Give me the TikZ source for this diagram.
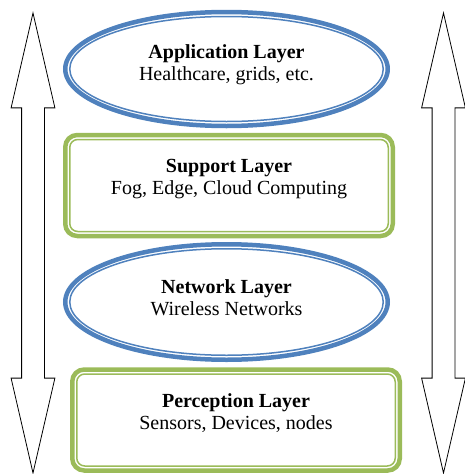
\documentclass[tikz,border=0pt]{standalone}
\usepackage{fontspec}
\setmainfont{Liberation Serif}
\usepackage{xcolor}
\usepackage{tikz}
\usetikzlibrary{positioning, shapes.geometric, shapes.arrows}

\definecolor{layerblue}{HTML}{4F81BD}
\definecolor{layergreen}{HTML}{9BBB59}

\begin{document}
\begin{tikzpicture}[
        x=1pt, y=1pt,
        txt/.style={align=center, font=\fontsize{20}{22}\selectfont, inner sep=0pt},
        oval/.style={ellipse, draw=layerblue, line width=4.5pt, minimum width=322.5pt, minimum height=114pt, inner sep=0pt, outer sep=0pt},
        ovalin/.style={draw=layerblue, line width=1.5pt},
        card/.style={rectangle, rounded corners=12pt, draw=layergreen, line width=4.5pt, minimum width=327.5pt, minimum height=101pt, inner sep=0pt, outer sep=0pt},
        cardin/.style={draw=layergreen, line width=1.5pt, rounded corners=8pt},
        flow/.style={double arrow, draw=black, line width=0.8pt, fill=white, rotate=90, minimum height=460pt, minimum width=43pt, double arrow head extend=10.5pt, double arrow tip angle=26, inner xsep=0pt, inner ysep=11pt}
    ]
    \useasboundingbox (0,0) rectangle (464,-474);

    \node[flow] (left) at (33,-243) {};
    \node[flow] (right) at (443.5,-243) {};

    \node[oval] (app) at (226.5,-69) {};
    \node[card] (sup) at (229,-185.5) {};
    \node[oval, minimum height=115.5pt] (net) at (226.5,-302) {};
    \node[card] (per) at (236,-420) {};

    \draw[ovalin] (app.center) ellipse [x radius=156.75, y radius=52.5];
    \draw[ovalin] (net.center) ellipse [x radius=156.75, y radius=53.25];
    \draw[cardin] ([shift={(4.5,-4.5)}]sup.north west) rectangle ([shift={(-4.5,4.5)}]sup.south east);
    \draw[cardin] ([shift={(4.5,-4.5)}]per.north west) rectangle ([shift={(-4.5,4.5)}]per.south east);

    \node[txt] (app-txt) at ([yshift=4]app.center) {\textbf{Application Layer}\\Healthcare, grids, etc.};
    \node[txt] (sup-txt) at ([yshift=6]sup.center) {\textbf{Support Layer}\\Fog, Edge, Cloud Computing};
    \node[txt] (net-txt) at ([yshift=4]net.center) {\textbf{Network Layer}\\Wireless Networks};
    \node[txt] (per-txt) at ([yshift=7]per.center) {\textbf{Perception Layer}\\Sensors, Devices, nodes};
\end{tikzpicture}
\end{document}
